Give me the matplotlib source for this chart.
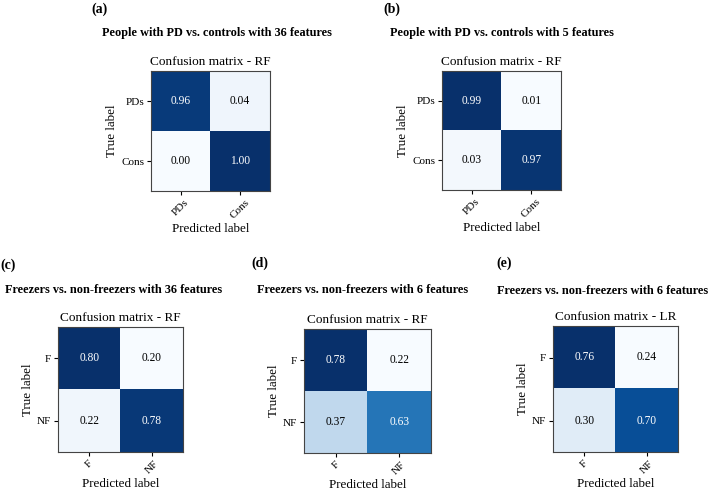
import matplotlib.pyplot as plt
import numpy as np

plt.rcParams['font.family'] = ['Liberation Serif', 'DejaVu Serif']

W, H = 708, 494

# confusion matrices (normalized)
cm_a = [[0.96, 0.04], [0.00, 1.00]]
cm_b = [[0.99, 0.01], [0.03, 0.97]]
cm_c = [[0.80, 0.20], [0.22, 0.78]]
cm_d = [[0.78, 0.22], [0.37, 0.63]]
cm_e = [[0.76, 0.24], [0.30, 0.70]]

labels_pd = ['PDs', 'Cons']
labels_fog = ['F', 'NF']

panels = [
    # matrix, classes, model, panel letter, heading, axes box in px (left, top, w, h), letter pos, heading pos
    (cm_a, labels_pd, 'RF', '(a)', 'People with PD vs. controls with 36 features',
     (151, 71, 119, 120), (100, 9), (217, 33)),
    (cm_b, labels_pd, 'RF', '(b)', 'People with PD vs. controls with 5 features',
     (442, 71, 119, 119), (392, 9), (502, 33)),
    (cm_c, labels_fog, 'RF', '(c)', 'Freezers vs. non-freezers with 36 features',
     (58, 327, 125, 125), (8, 265), (114, 290)),
    (cm_d, labels_fog, 'RF', '(d)', 'Freezers vs. non-freezers with 6 features',
     (304, 329, 127, 124), (260, 263), (363, 290)),
    (cm_e, labels_fog, 'LR', '(e)', 'Freezers vs. non-freezers with 6 features',
     (553, 326, 125, 126), (504, 263), (603, 291)),
]

fig = plt.figure(figsize=(W / 100, H / 100), dpi=100)

for cm, classes, model, letter, heading, box, lpos, hpos in panels:
    cm = np.array(cm)
    l, t, w, h = box
    ax = fig.add_axes([l / W, 1 - (t + h) / H, w / W, h / H])
    ax.imshow(cm, cmap='Blues', interpolation='nearest', aspect='auto')
    ax.set_title('Confusion matrix - ' + model, fontsize=9.5, pad=4)
    ax.set_xticks(range(len(classes)))
    ax.set_yticks(range(len(classes)))
    ax.set_xticklabels(classes, rotation=45, fontsize=8)
    ax.set_yticklabels(classes, fontsize=8)
    ax.tick_params(length=3, pad=2)
    ax.set_xlabel('Predicted label', fontsize=9.4, labelpad=2)
    ax.set_ylabel('True label', fontsize=9.4, labelpad=2)
    thresh = cm.max() / 2.
    for i in range(cm.shape[0]):
        for j in range(cm.shape[1]):
            ax.text(j, i, format(cm[i, j], '.2f'), ha='center', va='center', fontsize=8.3,
                    color='white' if cm[i, j] > thresh else 'black')
    for s in ax.spines.values():
        s.set_color('#444444')
    fig.text(lpos[0] / W, 1 - lpos[1] / H, letter, fontsize=10, fontweight='bold',
             ha='center', va='center')
    fig.text(hpos[0] / W, 1 - hpos[1] / H, heading, fontsize=8.8, fontweight='bold',
             ha='center', va='center')

fig.savefig('out.png', dpi=100)
